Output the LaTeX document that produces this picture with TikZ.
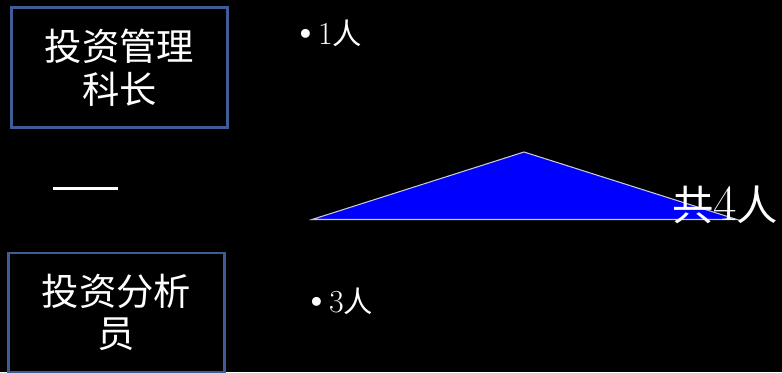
\documentclass[tikz,border=0pt]{standalone}
\usepackage{fontspec}
\usepackage{xcolor}
\usepackage{tikz}
\usetikzlibrary{positioning}
\newfontfamily\cjk{Noto Sans CJK SC}
\definecolor{boxblue}{RGB}{62, 92, 150}
\definecolor{pyrblue}{RGB}{0, 0, 255}
\definecolor{edgegray}{RGB}{200, 200, 215}
\tikzset{
  rolebox/.style={draw=boxblue, line width=1.6pt, fill=black, text=white,
                  align=center, font=\fontsize{28}{32}\selectfont\cjk,
                  minimum width=162pt, minimum height=90pt, inner sep=0pt},
  cnt/.style={text=white, anchor=west, inner sep=0pt,
              font=\fontsize{24}{26}\selectfont},
}
\newcommand{\bigdot}{{\fontsize{30}{30}\selectfont\textbullet}\kern-1.5pt}

\begin{document}
\begin{tikzpicture}[x=0.75pt, y=-0.75pt]
  % background
  \fill[black] (0,0) rectangle (782,372);
  \useasboundingbox (0,0) rectangle (782,372);

  % ---- roles ----
  \node[rolebox] (chief) at (119.5,67.5) {投资管理\\科长};
  \node[rolebox, minimum height=89pt] (analyst) at (116.5,312.5) {投资分析\\员};

  % separator
  \draw[white, line width=2.2pt] (53,188.5) -- (118,188.5);

  % ---- head counts ----
  \node[cnt] (one) at (291,33) {\bigdot{}1{\fontsize{22}{24}\selectfont\cjk 人}};
  \node[cnt] (three) at (302,301) {\bigdot{}3{\fontsize{22}{24}\selectfont\cjk 人}};

  % pyramid
  \filldraw[fill=pyrblue, draw=edgegray, line width=0.8pt]
    (312,219.5) -- (524,152) -- (737,219.5) -- cycle;
  \node[text=white, anchor=west, inner sep=0pt,
        font=\fontsize{31}{34}\selectfont] (total) at (672,205)
    {{\cjk 共}{\fontsize{38}{38}\selectfont 4}{\cjk 人}};
\end{tikzpicture}
\end{document}
